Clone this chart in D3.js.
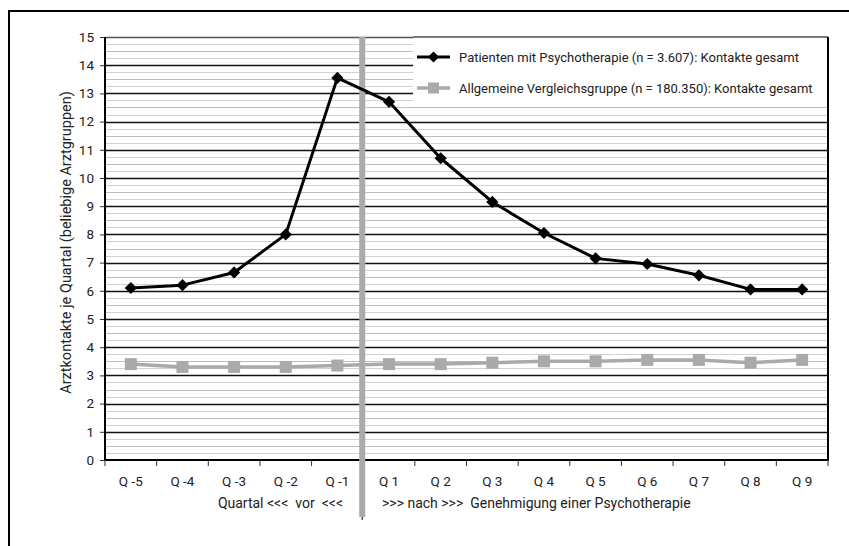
<!DOCTYPE html>
<html>
<head>
<meta charset="utf-8">
<script src="https://cdn.jsdelivr.net/npm/d3@7"></script>
<style>
  html, body { margin: 0; padding: 0; background: #fff; }
  svg { display: block; }
  text { font-family: Roboto, "Open Sans", sans-serif; fill: #222; }
</style>
</head>
<body>
<svg id="chart" width="849" height="546"></svg>
<script>
const categories = ["Q -5","Q -4","Q -3","Q -2","Q -1","Q 1","Q 2","Q 3","Q 4","Q 5","Q 6","Q 7","Q 8","Q 9"];
const psychoValues = [6.1, 6.2, 6.65, 8.0, 13.55, 12.7, 10.7, 9.15, 8.05, 7.15, 6.95, 6.55, 6.05, 6.05];
const compareValues = [3.4, 3.3, 3.3, 3.3, 3.35, 3.4, 3.4, 3.45, 3.5, 3.5, 3.55, 3.55, 3.45, 3.55];
const yTicks = [0,1,2,3,4,5,6,7,8,9,10,11,12,13,14,15];
const seriesNames = [
  "Patienten mit Psychotherapie (n = 3.607): Kontakte gesamt",
  "Allgemeine Vergleichsgruppe (n = 180.350): Kontakte gesamt"
];
const yTitle = "Arztkontakte je Quartal (beliebige Arztgruppen)";
const xTitleLeft = "Quartal <<<  vor  <<<";
const xTitleRight = ">>> nach >>>  Genehmigung einer Psychotherapie";
const approvalAfter = "Q -1";

const svg = d3.select("#chart");
const L = 105, R = 828, T = 37, B = 460;

// outer frame
svg.append("rect").attr("x", 9).attr("y", 11).attr("width", 900).attr("height", 600)
  .attr("fill", "none").attr("stroke", "#000").attr("stroke-width", 2);

const x = d3.scaleBand().domain(categories).range([L, R]).paddingInner(0).paddingOuter(0);
const y = d3.scaleLinear().domain([0, 15]).range([B, T]);

// minor grid
const minor = d3.range(0, 60).map(i => i * 0.25).filter(v => v % 1 !== 0);
svg.append("g").selectAll("line").data(minor).join("line")
  .attr("x1", L).attr("x2", R)
  .attr("y1", d => Math.round(y(d)) + 0.5).attr("y2", d => Math.round(y(d)) + 0.5)
  .attr("stroke", d => (d % 0.5 === 0) ? "#bdbdbd" : "#d2d2d2").attr("stroke-width", 1.2);

// major grid
svg.append("g").selectAll("line").data(yTicks.filter(v => v > 0)).join("line")
  .attr("x1", L).attr("x2", R)
  .attr("y1", d => Math.round(y(d)) + 0.5).attr("y2", d => Math.round(y(d)) + 0.5)
  .attr("stroke", d => d === 15 ? "#555" : "#111").attr("stroke-width", 1.6);

// y axis
const yAxis = svg.append("g").attr("transform", `translate(${L},0)`)
  .call(d3.axisLeft(y).tickValues(yTicks).tickSize(5).tickPadding(6).tickFormat(d3.format("d")));
yAxis.select(".domain").remove();
yAxis.selectAll(".tick line").attr("stroke", "#333");
yAxis.selectAll("text").attr("font-size", 13.5).attr("fill", "#222")
  .style("font-family", "Roboto, sans-serif");
svg.append("line").attr("x1", L).attr("x2", L).attr("y1", T).attr("y2", B + 1)
  .attr("stroke", "#000").attr("stroke-width", 2);
svg.append("line").attr("x1", R).attr("x2", R).attr("y1", T).attr("y2", B + 1)
  .attr("stroke", "#000").attr("stroke-width", 2);

// x axis
svg.append("line").attr("x1", L).attr("x2", R).attr("y1", B).attr("y2", B)
  .attr("stroke", "#000").attr("stroke-width", 2);
const bounds = categories.map(c => x(c)).concat([x(categories[categories.length - 1]) + x.bandwidth()]);
svg.append("g").selectAll("line").data(bounds).join("line")
  .attr("x1", d => d).attr("x2", d => d).attr("y1", B).attr("y2", B + 6)
  .attr("stroke", "#333").attr("stroke-width", 1);
svg.append("g").selectAll("text").data(categories).join("text")
  .attr("x", d => x(d) + x.bandwidth() / 2).attr("y", B + 26)
  .attr("text-anchor", "middle").attr("font-size", 13.5).text(d => d);

// x titles
svg.append("text").attr("x", 343).attr("y", 508).attr("text-anchor", "end")
  .attr("font-size", 14).style("white-space", "pre").attr("xml:space", "preserve").text(xTitleLeft);
svg.append("text").attr("x", 382).attr("y", 508).attr("text-anchor", "start")
  .attr("font-size", 14).style("white-space", "pre").attr("xml:space", "preserve").text(xTitleRight);

// y title
svg.append("text").attr("transform", `translate(71,${(T + B) / 2 - 6}) rotate(-90)`)
  .attr("text-anchor", "middle").attr("font-size", 14.5).text(yTitle);

// approval divider
const divX = x(approvalAfter) + x.bandwidth();
svg.append("line").attr("x1", divX - 1).attr("x2", divX - 1).attr("y1", T).attr("y2", 517)
  .attr("stroke", "#aaaaaa").attr("stroke-width", 6);
svg.append("line").attr("x1", divX - 1).attr("x2", divX - 1).attr("y1", 517).attr("y2", 520)
  .attr("stroke", "#000").attr("stroke-width", 1);

// legend box
svg.append("rect").attr("x", 413).attr("y", T).attr("width", R - 413).attr("height", 69)
  .attr("fill", "#fff");
svg.append("line").attr("x1", 413).attr("x2", R).attr("y1", T).attr("y2", T)
  .attr("stroke", "#555").attr("stroke-width", 1.6);
svg.append("line").attr("x1", R).attr("x2", R).attr("y1", T).attr("y2", 106)
  .attr("stroke", "#000").attr("stroke-width", 2);

// series
const cx = d => x(d) + x.bandwidth() / 2;
const line = d3.line().x(d => cx(d[0])).y(d => y(d[1]));
const psych = categories.map((c, i) => [c, psychoValues[i]]);
const comp = categories.map((c, i) => [c, compareValues[i]]);

svg.append("path").datum(comp).attr("d", line).attr("fill", "none")
  .attr("stroke", "#aaaaaa").attr("stroke-width", 3.5);
svg.append("g").selectAll("rect").data(comp).join("rect")
  .attr("x", d => cx(d[0]) - 6).attr("y", d => y(d[1]) - 6).attr("width", 12).attr("height", 12)
  .attr("fill", "#aaaaaa");

svg.append("path").datum(psych).attr("d", line).attr("fill", "none")
  .attr("stroke", "#000").attr("stroke-width", 3).attr("stroke-linejoin", "round");
const diamond = d3.symbol().type(d3.symbolDiamond2).size(95);
svg.append("g").selectAll("path").data(psych).join("path")
  .attr("transform", d => `translate(${cx(d[0])},${y(d[1])})`)
  .attr("d", diamond).attr("fill", "#000");

// legend entries
const legY = [57, 88];
const legColors = ["#000", "#aaaaaa"];
seriesNames.forEach((name, i) => {
  const g = svg.append("g");
  g.append("line").attr("x1", 417).attr("x2", 450).attr("y1", legY[i]).attr("y2", legY[i])
    .attr("stroke", legColors[i]).attr("stroke-width", i === 0 ? 3 : 3.5);
  if (i === 0) {
    g.append("path").attr("transform", `translate(433.5,${legY[i]})`)
      .attr("d", d3.symbol().type(d3.symbolDiamond2).size(80)).attr("fill", "#000");
  } else {
    g.append("rect").attr("x", 428).attr("y", legY[i] - 5.5).attr("width", 11).attr("height", 11)
      .attr("fill", "#aaaaaa");
  }
  g.append("text").attr("x", 459).attr("y", legY[i] + 5).attr("font-size", 13).text(name);
});
</script>
</body>
</html>
